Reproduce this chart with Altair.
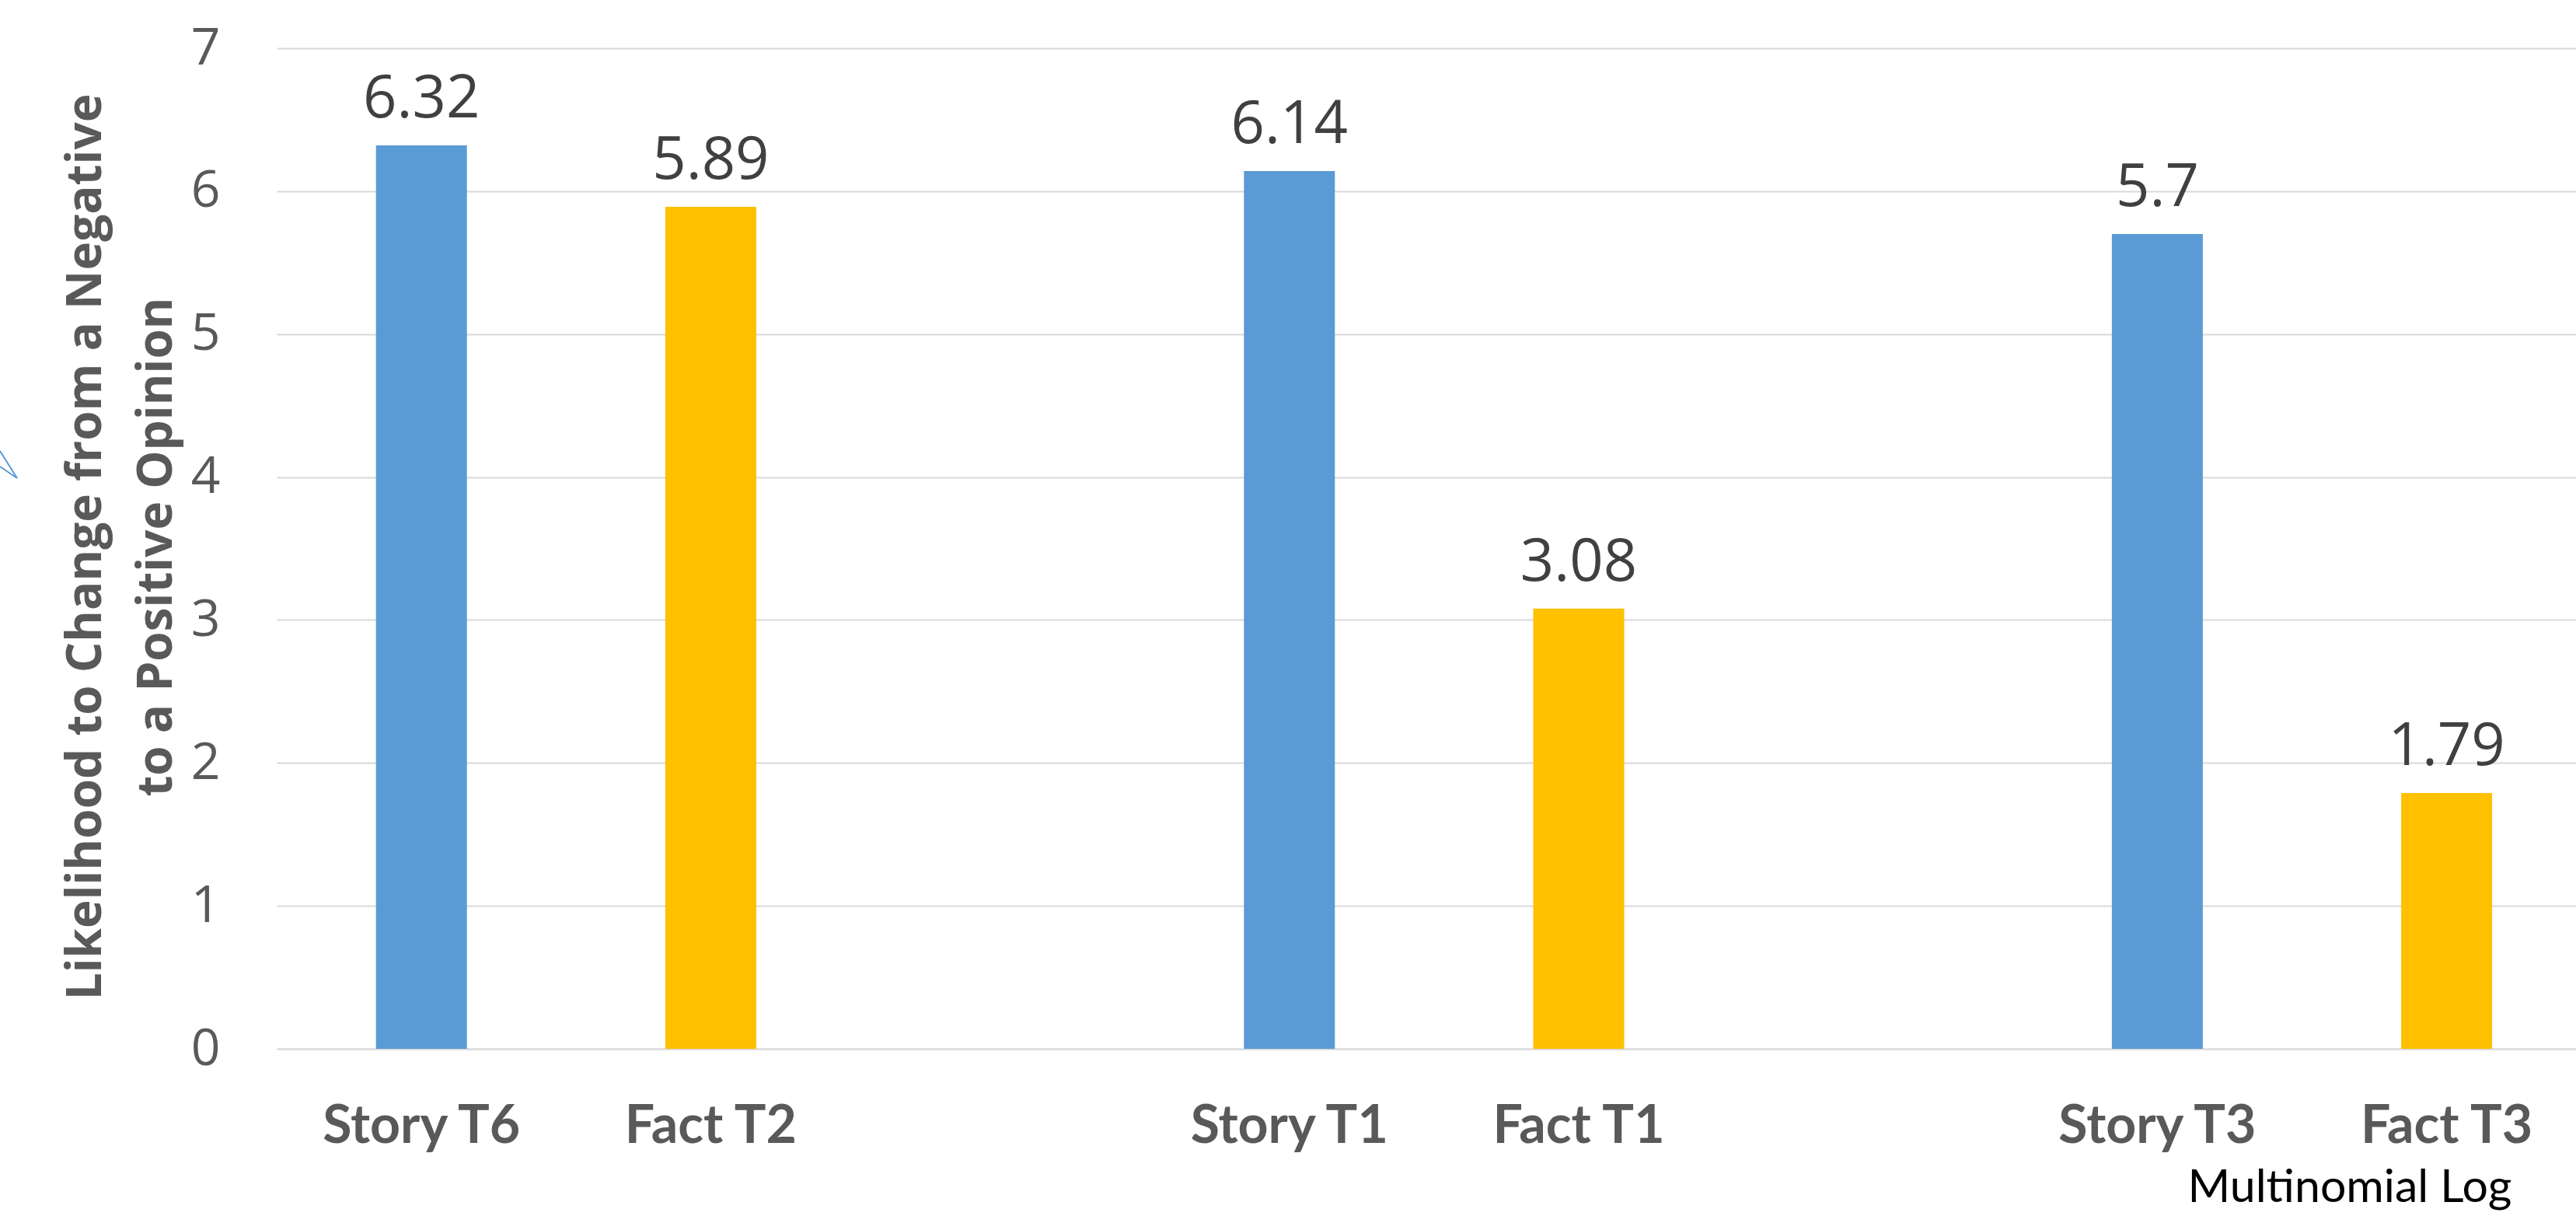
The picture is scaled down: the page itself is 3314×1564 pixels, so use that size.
import altair as alt
import pandas as pd

# Odds of moving from a negative to a positive opinion, by stimulus
categories = ["Story T6", "Fact T2", "Story T1", "Fact T1", "Story T3", "Fact T3"]
kinds = ["Story", "Fact", "Story", "Fact", "Story", "Fact"]
values = [6.32, 5.89, 6.14, 3.08, 5.70, 1.79]

# x slots: an empty slot separates each Story/Fact pair
x_slots = ["Story T6", "Fact T2", " ", "Story T1", "Fact T1", "  ", "Story T3", "Fact T3"]
y_ticks = [0, 1, 2, 3, 4, 5, 6, 7]

kind_order = ["Story", "Fact"]
kind_colors = ["#5B9BD5", "#FFC000"]

df = pd.DataFrame({"category": categories, "kind": kinds, "value": values})

PLOT_W = 2958
PLOT_H = 1287

x_enc = alt.X(
    "category:N",
    sort=x_slots,
    scale=alt.Scale(domain=x_slots, paddingInner=0.68565, paddingOuter=0.31648, align=0.542),
    axis=alt.Axis(
        labelAngle=0,
        ticks=False,
        domain=True,
        domainColor="#D9D9D9",
        domainWidth=2,
        labelFont="Lato",
        labelFontWeight="bold",
        labelFontSize=68,
        labelColor="#595959",
        labelBaseline="alphabetic",
        labelPadding=120,
        labelOverlap=False,
        labelLimit=0,
        title="Multinomial Log",
        titleFont="Lato",
        titleFontSize=59,
        titleFontWeight="normal",
        titleColor="#000000",
        titleX=2875,
        titleY=196,
        titleAlign="right",
        titleBaseline="alphabetic",
    ),
)

y_enc = alt.Y(
    "value:Q",
    scale=alt.Scale(domain=[0, 7], nice=False),
    axis=alt.Axis(
        values=y_ticks,
        format="d",
        grid=True,
        gridColor="#D9D9D9",
        gridWidth=2,
        domain=False,
        ticks=False,
        labelFont="Open Sans",
        labelFontSize=66,
        labelColor="#595959",
        labelPadding=73,
        title=["Likelihood to Change from a Negative", "to  a Positive Opinion"],
        titleFont="Open Sans",
        titleFontWeight="bold",
        titleFontSize=62,
        titleColor="#595959",
        titleAngle=270,
        titleX=-227,
        titleY=641,
        titleAlign="center",
        titleBaseline="alphabetic",
        titleLineHeight=91,
    ),
)

base = alt.Chart(df).encode(x=x_enc, y=y_enc)

bars = base.mark_bar().encode(
    color=alt.Color("kind:N", scale=alt.Scale(domain=kind_order, range=kind_colors), legend=None)
)

labels = base.mark_text(
    dy=-36, baseline="alphabetic", font="Open Sans", fontSize=76, color="#404040"
).encode(text=alt.Text("value:Q", format=".2~f"))

# small blue pointer stroke at the left edge
stub = alt.Data(values=[{"k": 1}])
pointer_a = alt.Chart(stub).mark_rule(color="#5B9BD5", strokeWidth=2).encode(
    x=alt.value(-356), y=alt.value(518), x2=alt.value(-334), y2=alt.value(553)
)
pointer_b = alt.Chart(stub).mark_rule(color="#5B9BD5", strokeWidth=2).encode(
    x=alt.value(-356), y=alt.value(538), x2=alt.value(-334), y2=alt.value(553)
)

chart = (
    alt.layer(bars, labels, pointer_a, pointer_b)
    .properties(
        width=PLOT_W,
        height=PLOT_H,
        autosize=alt.AutoSizeParams(type="none"),
        padding={"left": 356, "top": 62, "right": 0, "bottom": 209},
        background="#FFFFFF",
    )
    .configure_view(strokeWidth=0)
)

chart.save("out.html", embed_options={"renderer": "svg", "actions": False})
